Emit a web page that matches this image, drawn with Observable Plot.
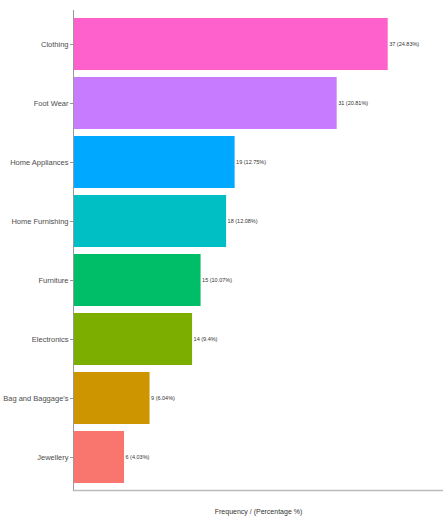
<!DOCTYPE html>
<html>
<head>
<meta charset="utf-8">
<script src="https://cdn.jsdelivr.net/npm/d3@7"></script>
<script src="https://cdn.jsdelivr.net/npm/@observablehq/plot@0.6"></script>
<style>
  html, body { margin: 0; padding: 0; background: #fff; }
  svg { font-family: "Liberation Sans", "DejaVu Sans", sans-serif; font-stretch: condensed; }
</style>
</head>
<body>
<div id="chart"></div>
<script>
const categories = ["Clothing", "Foot Wear", "Home Appliances", "Home Furnishing", "Furniture", "Electronics", "Bag and Baggage's", "Jewellery"];
const counts = [37, 31, 19, 18, 15, 14, 9, 6];
const labels = ["37 (24.83%)", "31 (20.81%)", "19 (12.75%)", "18 (12.08%)", "15 (10.07%)", "14 (9.4%)", "9 (6.04%)", "6 (4.03%)"];
const colors = ["#FF61CC", "#C77CFF", "#00A9FF", "#00BFC4", "#00BE67", "#7CAE00", "#CD9600", "#F8766D"];

const data = categories.map((c, i) => ({category: c, count: counts[i], label: labels[i]}));

const chart = Plot.plot({
  width: 443,
  height: 520,
  marginLeft: 73,
  marginRight: 0,
  marginTop: 10,
  marginBottom: 30,
  x: {domain: [0, 43.5], axis: null},
  y: {domain: categories, padding: 0.12, label: null, tickSize: 3, tickPadding: 2},
  color: {domain: categories, range: colors},
  style: {fontSize: "7.5px", color: "#4d4d4d"},
  marks: [
    Plot.barX(data, {y: "category", x: "count", fill: "category"}),
    Plot.text(data, {y: "category", x: "count", text: "label", textAnchor: "start", dx: 1, fontSize: 5.5, fill: "#333"}),
    Plot.frame({anchor: "left", stroke: "#999"}),
    Plot.frame({anchor: "bottom", stroke: "#bbb", strokeWidth: 1.5}),
    Plot.axisY({tickSize: 3, tickPadding: 2, stroke: "#999", fill: "#4d4d4d", fontSize: 7.5}),
    Plot.text(["Frequency / (Percentage %)"], {frameAnchor: "bottom", dy: 23, fontSize: 7, fill: "#333"})
  ]
});
document.getElementById("chart").appendChild(chart);
</script>
</body>
</html>
